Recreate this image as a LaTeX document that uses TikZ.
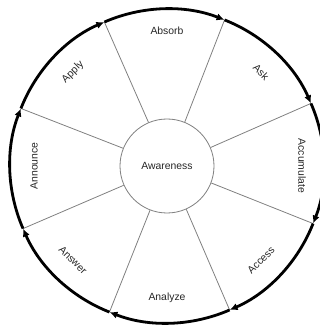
\documentclass[tikz,border=0pt]{standalone}
\usepackage{fontspec}
\setmainfont{Liberation Sans}
\usetikzlibrary{arrows.meta}
% one clockwise piece of the outer ring, from angle #1 to the next divider
\providecommand{\cyc}[1]{\draw[cyc] (#1:157) arc[start angle=#1, end angle={#1-45}, radius=157];}

\begin{document}
\begin{tikzpicture}[
  x=0.75pt, y=0.75pt,
  font=\fontsize{7.8}{9}\selectfont,
  lbl/.style={inner sep=1pt, text=black!85},
  hub/.style={circle, draw=black!50, line width=.6pt, minimum size=70.5pt, inner sep=0pt},
  div/.style={draw=black!50, line width=.6pt},
  cyc/.style={draw=black, line width=2.1pt, -{Latex[length=6pt,width=5.5pt]}},
]
\useasboundingbox (-167,-162) rectangle (153,166);

% ---------------- hub ----------------
\node[hub, text=black!85] (aw) at (0,0) {Awareness};

% ---------------- outer ends of the dividers ----------------
\coordinate (o1) at (113.5:157);
\coordinate (o2) at (68.5:157);
\coordinate (o3) at (23.5:157);
\coordinate (o4) at (-21.5:157);
\coordinate (o5) at (-66.5:157);
\coordinate (o6) at (-111.5:157);
\coordinate (o7) at (-156.5:157);
\coordinate (o8) at (158.5:157);

% ---------------- dividers ----------------
\draw[div] (aw.113.5)  -- (o1);
\draw[div] (aw.68.5)   -- (o2);
\draw[div] (aw.23.5)   -- (o3);
\draw[div] (aw.-21.5)  -- (o4);
\draw[div] (aw.-66.5)  -- (o5);
\draw[div] (aw.-111.5) -- (o6);
\draw[div] (aw.-156.5) -- (o7);
\draw[div] (aw.158.5)  -- (o8);

% ---------------- ring, clockwise ----------------
\cyc{113.5}
\cyc{68.5}
\cyc{23.5}
\cyc{-21.5}
\cyc{-66.5}
\cyc{-111.5}
\cyc{-156.5}
\cyc{158.5}

% ---------------- sector labels ----------------
\node[lbl]             (absorb) at (90:135)   {Absorb};
\node[lbl, rotate=-45] (ask)    at (45:133)   {Ask};
\node[lbl, rotate=-90] (accum)  at (0:135)    {Accumulate};
\node[lbl, rotate=45]  (access) at (-45:133)  {Access};
\node[lbl]             (analy)  at (-90:132)  {Analyze};
\node[lbl, rotate=-45] (answer) at (-135:133) {Answer};
\node[lbl, rotate=90]  (annou)  at (180:133)  {Announce};
\node[lbl, rotate=45]  (apply)  at (135:133)  {Apply};

\end{tikzpicture}
\end{document}
